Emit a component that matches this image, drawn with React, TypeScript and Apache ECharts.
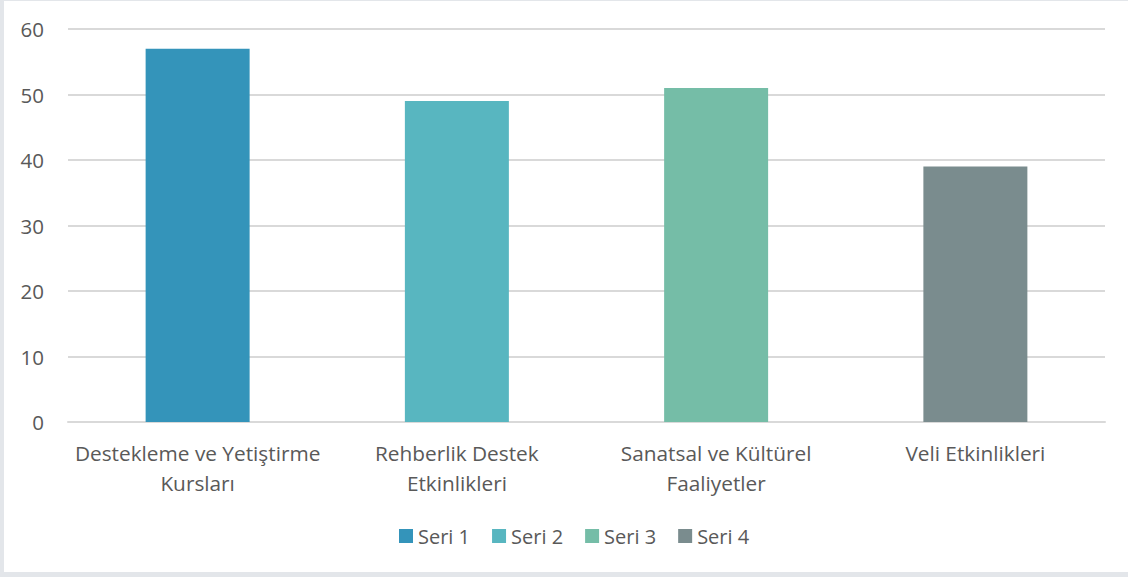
import React, { useEffect, useRef } from "react";
import * as echarts from "echarts";

const categories = [
  "Destekleme ve Yetiştirme\nKursları",
  "Rehberlik Destek\nEtkinlikleri",
  "Sanatsal ve Kültürel\nFaaliyetler",
  "Veli Etkinlikleri",
];
const seriesNames = ["Seri 1", "Seri 2", "Seri 3", "Seri 4"];
const values = [57, 49, 51, 39];
const colors = ["#3494BA", "#58B6C0", "#75BDA7", "#7A8C8E"];
const yTicks = { min: 0, max: 60, interval: 10 };

const FONT = "'Open Sans', 'Noto Sans', sans-serif";
const TEXT = "#595959";

export default function App() {
  const ref = useRef<HTMLDivElement>(null);
  useEffect(() => {
    document.body.style.margin = "0";
    if (!ref.current) return;
    const chart = echarts.init(ref.current, null, { renderer: "svg" });
    const series = seriesNames.map((name, i) => ({
      name,
      type: "bar",
      data: values.map((v, j) => (j === i ? v : "-")),
      barWidth: 104,
      barGap: "-100%",
      itemStyle: { color: colors[i] },
    }));
    chart.setOption({
      animation: false,
      textStyle: { fontFamily: FONT },
      grid: { left: 68, right: 23, top: 29, bottom: 155, containLabel: false },
      legend: {
        data: seriesNames,
        top: 521,
        left: 394,
        itemWidth: 14,
        itemHeight: 14,
        itemGap: 22,
        icon: "rect",
        textStyle: { fontSize: 20, color: TEXT, fontFamily: FONT },
      },
      xAxis: {
        type: "category",
        data: categories,
        axisLine: { lineStyle: { color: "#D9D9D9", width: 2 } },
        axisTick: { show: false },
        axisLabel: {
          color: TEXT,
          fontSize: 20.8,
          fontFamily: FONT,
          lineHeight: 30,
          margin: 16,
          interval: 0,
        },
      },
      yAxis: {
        type: "value",
        min: yTicks.min,
        max: yTicks.max,
        interval: yTicks.interval,
        axisLine: { show: false },
        axisTick: { show: false },
        splitLine: { lineStyle: { color: "#D9D9D9", width: 2 } },
        axisLabel: { color: TEXT, fontSize: 20.5, fontFamily: FONT, margin: 24 },
      },
      series,
    });
    return () => chart.dispose();
  }, []);
  return (
    <div style={{ position: "relative", width: 1128, height: 577, background: "#E3E6EA" }}>
      <div style={{ position: "absolute", left: 4, top: 1, width: 1124, height: 571, background: "#fff" }} />
      <div ref={ref} style={{ position: "absolute", left: 0, top: 0, width: 1128, height: 577 }} />
    </div>
  );
}
